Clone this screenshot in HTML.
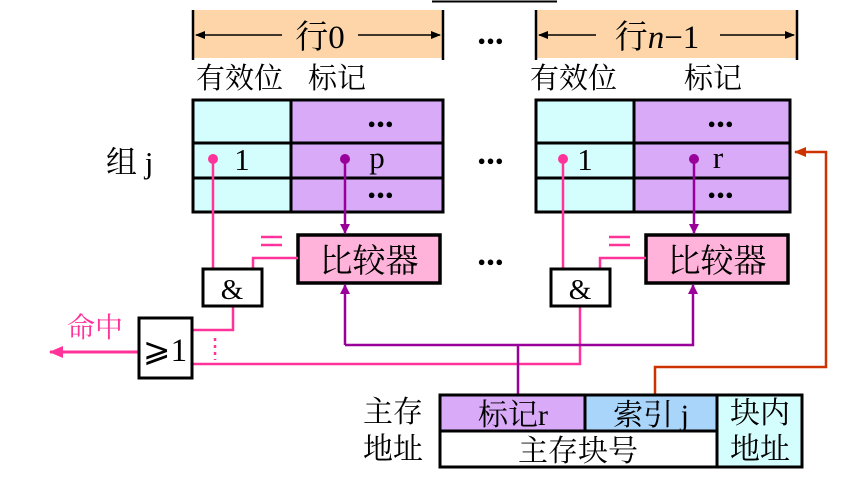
<!DOCTYPE html>
<html><head><meta charset="utf-8"><style>
body{margin:0;background:#fff;}
svg text{font-family:"Liberation Serif","Noto Serif CJK SC",serif;fill:#000;}
</style></head><body>
<svg width="859" height="481" viewBox="0 0 859 481" xmlns="http://www.w3.org/2000/svg">
<defs>
<marker id="ak" markerWidth="10" markerHeight="8" refX="9" refY="4" orient="auto" markerUnits="userSpaceOnUse"><path d="M0,0 L10,4 L0,8 Z" fill="#000"/></marker>
<marker id="ap" markerWidth="10" markerHeight="10" refX="9" refY="5" orient="auto" markerUnits="userSpaceOnUse"><path d="M0,0 L10,5 L0,10 Z" fill="#990099"/></marker>
<marker id="apk" markerWidth="14" markerHeight="12" refX="13" refY="6" orient="auto" markerUnits="userSpaceOnUse"><path d="M0,0 L14,6 L0,12 Z" fill="#FF3399"/></marker>
<marker id="ao" markerWidth="12" markerHeight="10" refX="11" refY="5" orient="auto" markerUnits="userSpaceOnUse"><path d="M0,0 L12,5 L0,10 Z" fill="#CC3300"/></marker>
</defs>
<line x1="432" y1="1.5" x2="557" y2="1.5" stroke="#000" stroke-width="2"/>
<rect x="193" y="10" width="250" height="48" fill="#FDD5A8"/>
<rect x="536" y="10" width="261" height="48" fill="#FDD5A8"/>
<g stroke="#000" stroke-width="2.5">
<line x1="193" y1="10" x2="193" y2="60"/><line x1="443" y1="10" x2="443" y2="60"/>
<line x1="536" y1="10" x2="536" y2="60"/><line x1="797" y1="10" x2="797" y2="60"/>
</g>
<g stroke="#000" stroke-width="1.5">
<line x1="282" y1="35" x2="196" y2="35" marker-end="url(#ak)"/>
<line x1="358" y1="35" x2="440" y2="35" marker-end="url(#ak)"/>
<line x1="596" y1="35" x2="539" y2="35" marker-end="url(#ak)"/>
<line x1="720" y1="35" x2="794" y2="35" marker-end="url(#ak)"/>
</g>
<text x="320" y="48" font-size="33" text-anchor="middle">行0</text>
<text x="657" y="48" font-size="33" text-anchor="middle">行<tspan font-style="italic">n</tspan>−1</text>
<g font-size="29">
<text x="196" y="88">有效位</text><text x="308" y="88">标记</text>
<text x="530" y="88">有效位</text><text x="684" y="88">标记</text>
</g>
<g stroke="#000" stroke-width="3">
<rect x="193" y="100" width="98" height="112" fill="#D4FEFE"/>
<rect x="291" y="100" width="152" height="112" fill="#D8AAF8"/>
<line x1="193" y1="143" x2="443" y2="143"/><line x1="193" y1="178" x2="443" y2="178"/>
<rect x="536" y="100" width="98" height="112" fill="#D4FEFE"/>
<rect x="634" y="100" width="156" height="112" fill="#D8AAF8"/>
<line x1="536" y1="143" x2="790" y2="143"/><line x1="536" y1="178" x2="790" y2="178"/>
</g>
<g font-size="13" font-weight="bold" text-anchor="middle" letter-spacing="1">
<text x="491" y="45">●●●</text>
<text x="381" y="128">●●●</text><text x="381" y="199">●●●</text>
<text x="721" y="128">●●●</text><text x="721" y="199">●●●</text>
<text x="491" y="165">●●●</text><text x="491" y="266">●●●</text>
</g>
<text x="242" y="170" font-size="31" text-anchor="middle">1</text>
<text x="377" y="168" font-size="31" text-anchor="middle">p</text>
<text x="585" y="170" font-size="31" text-anchor="middle">1</text>
<text x="718" y="168" font-size="31" text-anchor="middle">r</text>
<text x="106" y="173" font-size="31">组 j</text>
<g stroke="#000" stroke-width="3.5" fill="#FFB3DA">
<rect x="298" y="235" width="142" height="48"/><rect x="646" y="235" width="142" height="48"/>
</g>
<text x="369" y="272" font-size="33" text-anchor="middle">比较器</text>
<text x="717" y="272" font-size="33" text-anchor="middle">比较器</text>
<g stroke="#FF3399" stroke-width="2.5" fill="none">
<line x1="261" y1="237" x2="282" y2="237"/><line x1="261" y1="245" x2="282" y2="245"/>
<line x1="609" y1="237" x2="630" y2="237"/><line x1="609" y1="245" x2="630" y2="245"/>
<polyline points="213,159 213,268"/><polyline points="298,258 253,258 253,268"/>
<polyline points="563,159 563,268"/><polyline points="646,258 600,258 600,268"/>
<polyline points="233,306 233,330 192,330"/>
<polyline points="580,306 580,364 192,364"/>
<line x1="215" y1="338" x2="215" y2="360" stroke-dasharray="3,4"/>
<line x1="139" y1="352" x2="50" y2="352" stroke-width="3" marker-end="url(#apk)"/>
</g>
<circle cx="213" cy="159" r="5" fill="#FF3399"/><circle cx="563" cy="159" r="5" fill="#FF3399"/>
<circle cx="345" cy="159" r="5" fill="#990099"/><circle cx="694" cy="159" r="5" fill="#990099"/>
<g stroke="#990099" stroke-width="2.5" fill="none">
<line x1="345" y1="159" x2="345" y2="233" marker-end="url(#ap)"/>
<line x1="694" y1="159" x2="694" y2="233" marker-end="url(#ap)"/>
<polyline points="345,345 345,285" marker-end="url(#ap)"/>
<polyline points="345,345 693,345 693,285" marker-end="url(#ap)"/>
<line x1="518" y1="345" x2="518" y2="395"/>
</g>
<polyline points="655,395 655,367 826,367 826,152 795,152" stroke="#CC3300" stroke-width="2.5" fill="none" marker-end="url(#ao)"/>
<g stroke="#000" stroke-width="3" fill="#fff">
<rect x="203" y="269" width="59" height="37"/><rect x="551" y="269" width="59" height="37"/>
<rect x="139" y="318" width="53" height="60"/>
</g>
<text x="232" y="299" font-size="29" text-anchor="middle">&amp;</text>
<text x="580" y="299" font-size="29" text-anchor="middle">&amp;</text>
<text x="165" y="361" font-size="33" text-anchor="middle">⩾1</text>
<text x="67" y="337" font-size="28" style="fill:#FF3399">命中</text>
<g stroke="#000" stroke-width="3">
<rect x="440" y="395" width="145" height="36" fill="#D8AAF8"/>
<rect x="585" y="395" width="132" height="36" fill="#AAD5FA"/>
<rect x="440" y="431" width="277" height="36" fill="#fff"/>
<rect x="717" y="395" width="85" height="72" fill="#D4FEFE"/>
</g>
<g font-size="30" text-anchor="middle">
<text x="513" y="425">标记r</text><text x="651" y="425">索引 j</text>
<text x="578" y="461">主存块号</text>
<text x="760" y="423">块内</text><text x="760" y="459">地址</text>
<text x="393" y="422">主存</text><text x="393" y="459">地址</text>
</g>
</svg>
</body></html>
